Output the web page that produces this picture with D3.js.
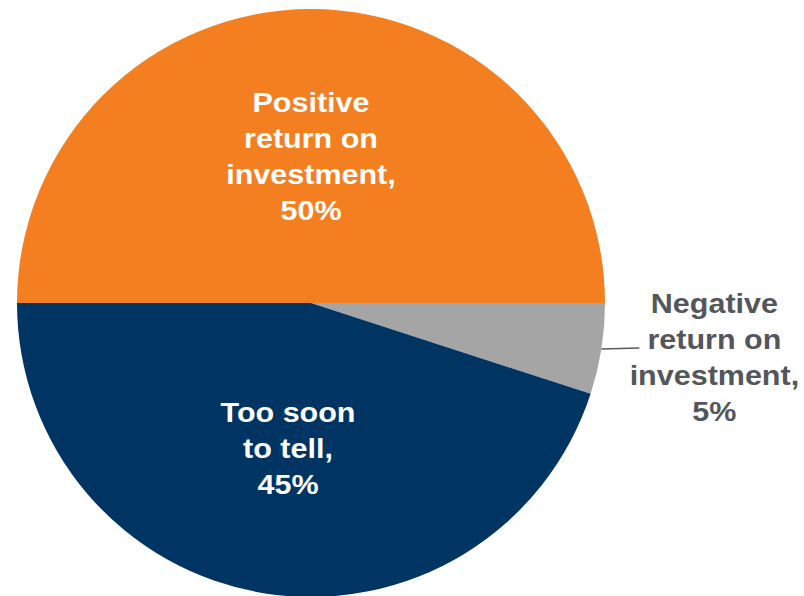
<!DOCTYPE html>
<html>
<head>
<meta charset="utf-8">
<script src="https://cdn.jsdelivr.net/npm/d3@7"></script>
<style>
  html, body { margin: 0; padding: 0; background: #ffffff; }
  svg { display: block; }
  text { font-family: "Liberation Sans", Arial, sans-serif; font-weight: bold; }
</style>
</head>
<body>
<svg id="chart" width="804" height="596"></svg>
<script>
// Survey result: return on investment
const categories = ["Positive return on investment", "Negative return on investment", "Too soon to tell"];
const labelLines = [
  ["Positive", "return on", "investment,"],
  ["Negative", "return on", "investment,"],
  ["Too soon", "to tell,"]
];
const values = [50, 5, 45];
const colors = ["#F47F20", "#A5A5A5", "#003463"];

const width = 804, height = 596;
const cx = 311, cy = 303, radius = 294;
const fontSize = 27, lineH = 36, stretch = 1.13;

const svg = d3.select("#chart");
const g = svg.append("g").attr("transform", `translate(${cx},${cy})`);

const pie = d3.pie()
  .sort(null)
  .value(d => d)
  .startAngle(-Math.PI / 2)
  .endAngle(3 * Math.PI / 2);

const arcs = pie(values);
const arc = d3.arc().innerRadius(0).outerRadius(radius);
const labelArc = d3.arc().innerRadius(radius * 0.5).outerRadius(radius * 0.5);

g.selectAll("path.slice")
  .data(arcs)
  .join("path")
  .attr("class", "slice")
  .attr("d", arc)
  .attr("fill", (d, i) => colors[i]);

// Draws a stack of centred lines around (x, yCenter)
function drawLabel(x, yCenter, lines, fill) {
  const n = lines.length;
  const firstBaseline = yCenter - (n - 1) * lineH / 2 + fontSize * 0.36;
  const t = g.append("text")
    .attr("text-anchor", "middle")
    .attr("font-size", fontSize)
    .attr("fill", fill)
    .attr("transform", `translate(${x},0) scale(${stretch},1)`);
  lines.forEach((ln, k) => {
    t.append("tspan")
      .attr("x", 0)
      .attr("y", firstBaseline + k * lineH)
      .text(ln);
  });
}

arcs.forEach((d, i) => {
  const lines = labelLines[i].concat([d.data + "%"]);
  if (d.data >= 10) {
    const [x, y] = labelArc.centroid(d);
    drawLabel(x, y, lines, "#ffffff");
  } else {
    // small slice: leader line out to an external label
    const mid = (d.startAngle + d.endAngle) / 2;
    const x0 = Math.sin(mid) * radius, y0 = -Math.cos(mid) * radius;
    const x1 = x0 + 38;
    g.append("line")
      .attr("x1", x0).attr("y1", y0)
      .attr("x2", x1).attr("y2", y0 - 1)
      .attr("stroke", "#595959")
      .attr("stroke-width", 1.5);
    drawLabel(x1 + 75, y0 + 8, lines, "#53565A");
  }
});
</script>
</body>
</html>
